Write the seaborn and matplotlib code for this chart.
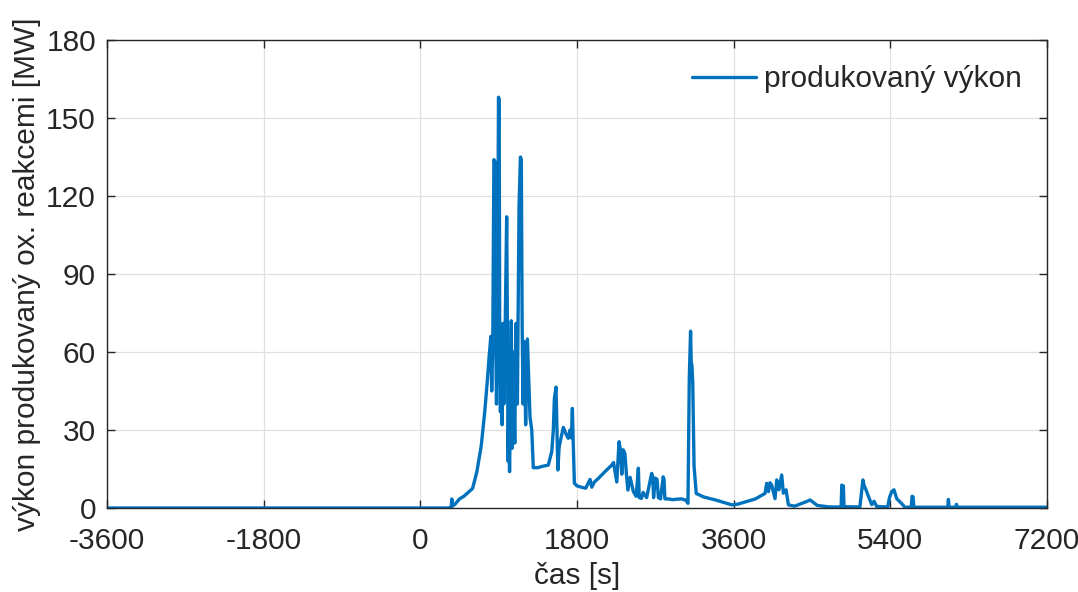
import numpy as np
import pandas as pd
import matplotlib
matplotlib.use("Agg")
import matplotlib.pyplot as plt
import seaborn as sns

# time [s] and oxidation power [MW]
time_s = [
    -3600, 0, 340, 355, 362, 372, 400, 450, 500, 550, 600, 650, 700, 740, 770,
    790, 810, 820, 832, 845, 860, 868, 875, 885, 898, 906, 912, 920, 930, 940,
    950, 960, 975, 992, 1000, 1008, 1015, 1025, 1035, 1045, 1055, 1065, 1085,
    1100, 1115, 1134, 1150, 1160, 1170, 1180, 1195, 1210, 1230, 1245, 1260,
    1280, 1298, 1350, 1400, 1470, 1510, 1528, 1540, 1559, 1570, 1580, 1595,
    1643, 1680, 1700, 1720, 1735, 1747, 1755, 1770, 1800, 1850, 1900, 1950,
    1970, 2000, 2046, 2122, 2199, 2220, 2257, 2283, 2300, 2315, 2330, 2350,
    2370, 2385, 2410, 2448, 2480, 2505, 2515, 2540, 2560, 2600, 2658, 2670,
    2680, 2700, 2720, 2735, 2760, 2790, 2800, 2810, 2850, 2900, 2950, 3000,
    3050, 3075, 3090, 3105, 3112, 3120, 3130, 3145, 3170, 3250, 3400, 3500,
    3580, 3650, 3750, 3850, 3960, 3980, 4000, 4017, 4037, 4075, 4095, 4121,
    4152, 4171, 4202, 4229, 4300, 4363, 4440, 4478, 4520, 4560, 4700, 4835,
    4842, 4860, 4868, 5050, 5085, 5095, 5120, 5148, 5186, 5213, 5243, 5370,
    5390, 5416, 5442, 5473, 5530, 5568, 5640, 5650, 5662, 5670, 6060, 6067,
    6075, 6150, 6160, 6170, 7200,
]
power_mw = [
    0.0, 0.0, 0.0, 0.3, 3.5, 0.8, 1.5, 3.5, 4.5, 6.0, 7.5, 14.0, 24.0, 37.0,
    49.0, 58.0, 66.0, 45.0, 62.0, 134.0, 133.0, 62.0, 40.0, 65.0, 158.0, 157.0,
    66.0, 37.0, 60.0, 32.0, 71.0, 40.0, 70.0, 112.0, 73.0, 18.0, 36.0, 14.0,
    36.0, 72.0, 23.0, 60.0, 25.0, 71.0, 40.0, 116.0, 135.0, 134.0, 70.0, 40.0,
    64.0, 32.0, 65.0, 50.0, 35.0, 30.0, 15.5, 15.5, 16.0, 16.5, 21.7, 30.0,
    42.0, 46.5, 30.0, 14.6, 23.6, 31.0, 28.0, 26.8, 30.0, 27.0, 38.3, 27.0,
    9.5, 8.5, 8.0, 7.6, 11.0, 8.0, 10.0, 11.4, 14.0, 16.5, 17.5, 10.0, 25.5,
    22.0, 13.0, 22.4, 21.0, 12.0, 6.9, 11.8, 6.3, 4.5, 15.3, 4.0, 3.7, 6.0,
    4.0, 13.3, 12.0, 4.0, 11.5, 11.0, 4.0, 3.5, 12.0, 11.0, 3.5, 3.5, 3.2,
    3.4, 3.5, 3.0, 1.8, 50.0, 68.0, 56.0, 55.0, 48.0, 16.0, 5.6, 4.3, 3.0,
    2.0, 1.2, 1.5, 2.5, 3.5, 5.6, 9.5, 6.3, 9.7, 8.8, 3.6, 10.8, 7.0, 12.7,
    5.7, 7.0, 1.2, 0.7, 1.5, 2.5, 3.1, 2.0, 1.0, 0.4, 0.4, 8.8, 8.5, 0.5, 0.4,
    10.8, 9.0, 7.0, 4.5, 1.3, 2.6, 0.6, 0.4, 4.0, 6.3, 7.0, 3.6, 1.7, 0.3,
    0.3, 4.5, 4.3, 0.3, 0.3, 3.3, 0.3, 0.3, 1.4, 0.3, 0.3,
]

x_ticks = [-3600, -1800, 0, 1800, 3600, 5400, 7200]
y_ticks = [0, 30, 60, 90, 120, 150, 180]
series_label = "produkovaný výkon"
x_label = "čas [s]"
y_label = "výkon produkovaný ox. reakcemi [MW]"

df = pd.DataFrame({"t": time_s, "p": power_mw})

sns.set_theme(style="whitegrid")
plt.rcParams["font.family"] = ["Liberation Sans", "DejaVu Sans"]
plt.rcParams["axes.unicode_minus"] = False

FS = 21.5

fig = plt.figure(figsize=(10.78, 5.92), dpi=100)
ax = fig.add_axes([107 / 1078, 1 - 508 / 592, 940 / 1078, 468 / 592])

sns.lineplot(data=df, x="t", y="p", ax=ax, color="#0072BD", linewidth=2.4,
             estimator=None, sort=False, label=series_label)

ax.set_xlim(-3600, 7200)
ax.set_ylim(0, 180)
ax.set_xticks(x_ticks)
ax.set_yticks(y_ticks)
ax.set_xticklabels([str(v) for v in x_ticks])
ax.set_yticklabels([str(v) for v in y_ticks])

ax.grid(True, color="#e0e0e0", linewidth=0.9)
ax.set_facecolor("white")
for s in ax.spines.values():
    s.set_visible(True)
    s.set_color("#262626")
    s.set_linewidth(1.0)

ax.tick_params(axis="both", which="both", direction="in", length=6, width=1.0,
               color="#262626", labelcolor="#262626", labelsize=FS,
               top=True, right=True, bottom=True, left=True)
ax.tick_params(axis="x", pad=14)
ax.tick_params(axis="y", pad=8)

ax.set_xlabel(x_label, fontsize=FS, color="#262626", labelpad=5)
ax.set_ylabel(y_label, fontsize=FS, color="#262626", labelpad=4)

leg = ax.legend(loc="upper right", frameon=False, fontsize=FS,
                handlelength=2.15, handletextpad=0.25,
                bbox_to_anchor=(1.0, 1.0), borderaxespad=0.45)
for line in leg.get_lines():
    line.set_linewidth(2.4)

fig.savefig("out.png", dpi=100)
